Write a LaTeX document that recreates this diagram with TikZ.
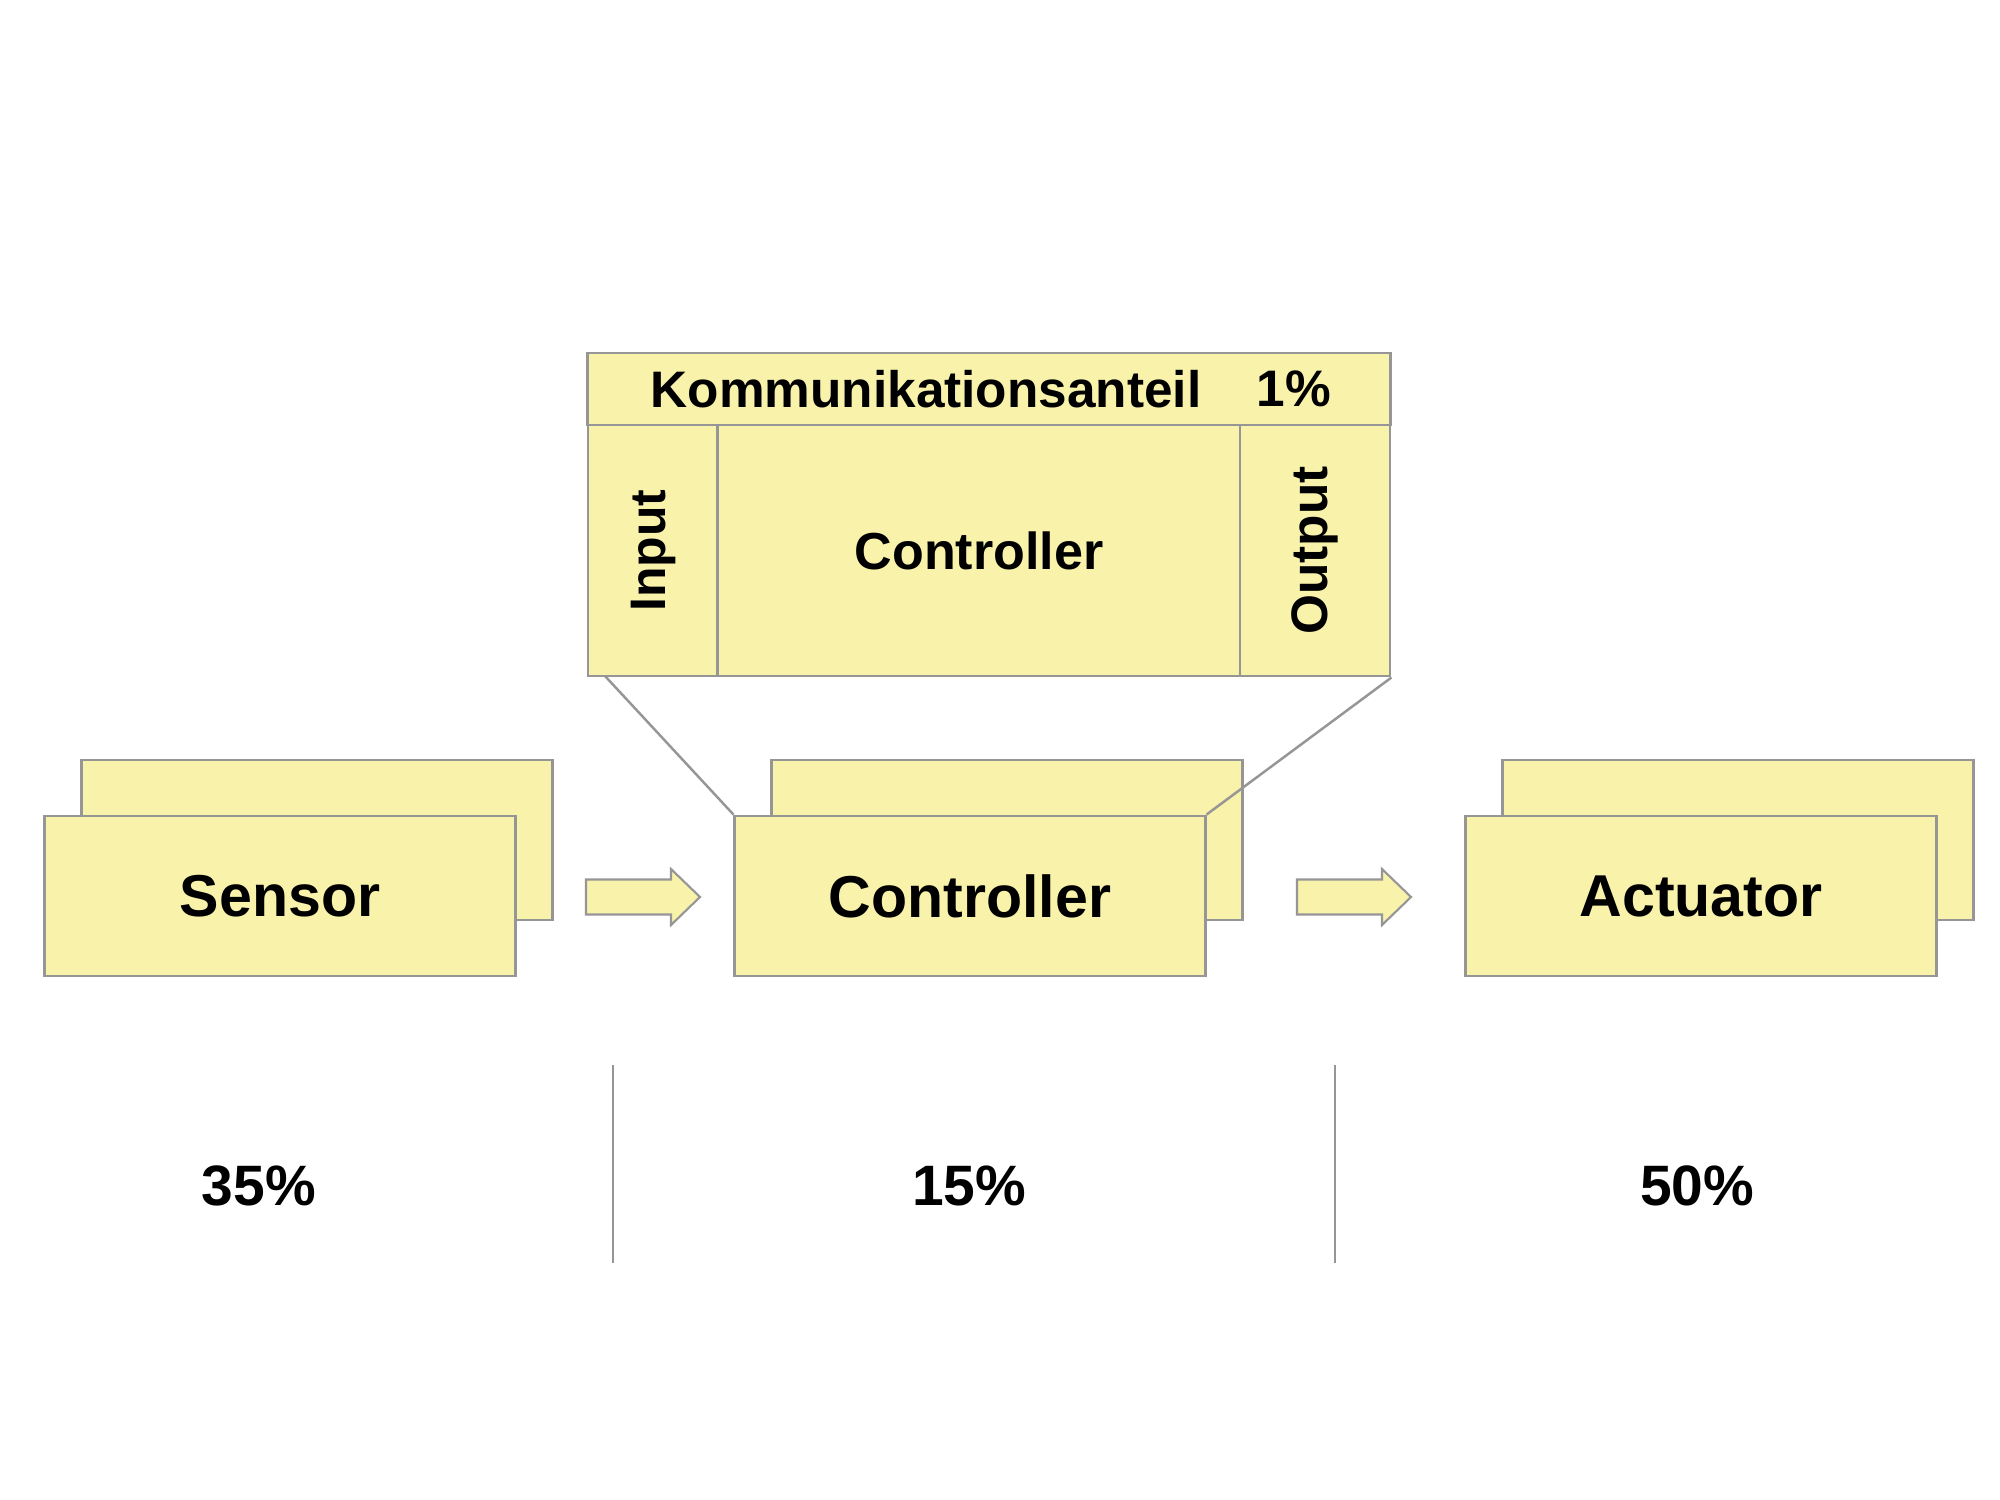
\documentclass[tikz,border=0pt]{standalone}
\usepackage{fontspec}
\setmainfont{Liberation Sans}
\definecolor{boxfill}{RGB}{248,242,170}
\definecolor{boxedge}{RGB}{150,150,150}
\begin{document}
\begin{tikzpicture}[x=0.01cm,y=-0.01cm,
  box/.style={draw=boxedge, fill=boxfill, line width=0.8pt, minimum width=4.7cm, minimum height=1.6cm, inner sep=0pt, font=\bfseries\fontsize{16.8}{20}\selectfont},
  cell/.style={draw=boxedge, fill=boxfill, line width=0.8pt, inner sep=0pt},
  celltext/.style={inner sep=0pt, font=\bfseries\fontsize{14.6}{17}\selectfont},
  pct/.style={inner sep=0pt, font=\bfseries\fontsize{16.2}{19}\selectfont},
  thinline/.style={draw=boxedge, line width=0.7pt},
  barrow/.style={draw=boxedge, fill=boxfill, line width=0.6pt, line join=miter},
  pics/blockarrow/.style={code={\draw[barrow] (0,-17.5) -- (85,-17.5) -- (85,-28) -- (114,0) -- (85,28) -- (85,17.5) -- (0,17.5) -- cycle;}}
]
\useasboundingbox[fill=white] (0,0) rectangle (2000,1500);

% back boxes
\node[box] (sensorback) at (317,840) {};
\node[box] (ctrlback) at (1007,840) {};
\node[box] (actback) at (1738,840) {};
% front boxes
\node[box] (sensor) at (280,896) {Sensor};
\node[box] (ctrl) at (970,896) {Controller};
\node[box] (act) at (1701,896) {Actuator};

% block arrows
\pic (arr1) at (586,897) {blockarrow};
\pic (arr2) at (1297,897) {blockarrow};

% detail box
\node[cell, minimum width=8.02cm, minimum height=0.72cm] (hdr) at (989,389) {};
\node[cell, minimum width=1.30cm, minimum height=2.51cm] (incell) at (653,550.5) {};
\node[cell, minimum width=5.22cm, minimum height=2.51cm] (ctrlcell) at (979,550.5) {};
\node[cell, minimum width=1.50cm, minimum height=2.51cm] (outcell) at (1315,550.5) {};

\node[celltext, anchor=west] (komm) at (650,389) {Kommunikationsanteil};
\node[celltext, anchor=west] (kommpct) at (1256,389) {1\%};
\node[celltext, rotate=90, font=\bfseries\fontsize{14.2}{17}\selectfont] (intext) at (incell) {Input};
\node[celltext, font=\bfseries\fontsize{14.8}{17}\selectfont] (ctrltext) at (ctrlcell) {Controller};
\node[celltext, rotate=90] (outtext) at (outcell) {Output};

% zoom lines
\coordinate (zl) at (605,676);
\draw[thinline] (zl) -- (ctrl.north west);
\draw[thinline] (outcell.south east) -- (ctrl.north east);

% separators
\coordinate (s1t) at (613,1065);
\coordinate (s1b) at (613,1263);
\coordinate (s2t) at (1335,1065);
\coordinate (s2b) at (1335,1263);
\draw[thinline] (s1t) -- (s1b);
\draw[thinline] (s2t) -- (s2b);

% percentages
\node[pct] (p1) at (259,1186) {35\%};
\node[pct] (p2) at (969,1186) {15\%};
\node[pct] (p3) at (1697,1186) {50\%};
\end{tikzpicture}
\end{document}
